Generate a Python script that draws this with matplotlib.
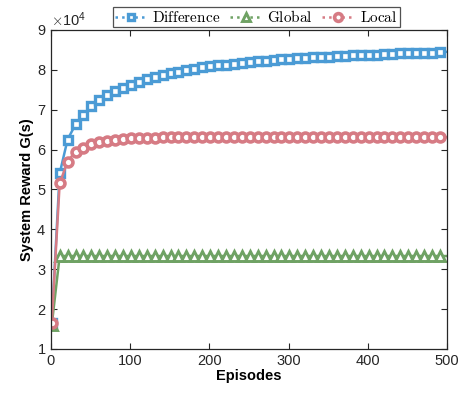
import numpy as np
import matplotlib
matplotlib.use('Agg')
import matplotlib.pyplot as plt
from matplotlib.lines import Line2D
from matplotlib.ticker import ScalarFormatter

# episodes where samples are shown (markers every 10 episodes, line ends at 500)
episodes = [1] + list(range(11, 500, 10)) + [500]

difference = [1.65, 5.40, 6.25, 6.63, 6.87, 7.08, 7.25, 7.37, 7.47, 7.55,
              7.63, 7.70, 7.76, 7.81, 7.86, 7.91, 7.95, 7.99, 8.03, 8.06,
              8.09, 8.11, 8.13, 8.15, 8.17, 8.19, 8.21, 8.23, 8.24, 8.26,
              8.28, 8.29, 8.30, 8.31, 8.32, 8.33, 8.34, 8.35, 8.36, 8.37,
              8.37, 8.38, 8.39, 8.40, 8.41, 8.41, 8.42, 8.43, 8.43, 8.44,
              8.45]
global_r = [1.60] + [3.33] * 50
local_r = [1.65, 5.15, 5.70, 5.95, 6.05, 6.13, 6.18, 6.22, 6.25, 6.27,
           6.28, 6.29, 6.30, 6.30, 6.31, 6.31, 6.31, 6.31, 6.31, 6.31,
           6.31, 6.31, 6.31, 6.31, 6.31, 6.31, 6.31, 6.31, 6.31, 6.31,
           6.31, 6.31, 6.31, 6.31, 6.31, 6.31, 6.31, 6.31, 6.31, 6.31,
           6.31, 6.31, 6.31, 6.31, 6.31, 6.31, 6.31, 6.31, 6.31, 6.31,
           6.31]

labels = ['Difference', 'Global', 'Local']
colors = ['#4b9bd5', '#6fa264', '#d67b84']
markers = ['s', '^', 'o']
msizes = [5.8, 6.6, 6.4]
mews = [2.4, 2.1, 2.6]

plt.rcParams['font.family'] = ['Liberation Sans', 'DejaVu Sans']
plt.rcParams['mathtext.fontset'] = 'cm'

fig = plt.figure(figsize=(4.59, 3.93), dpi=100)
ax = fig.add_axes([0.111, 0.112, 0.863, 0.812])

series = [difference, global_r, local_r]
x = np.array(episodes)
handles = []
for vals, lab, c, m, ms, mew in zip(series, labels, colors, markers, msizes, mews):
    y = np.array(vals) * 1e4
    ax.plot(x, y, '-', color=c, lw=1.8, marker=m, markersize=ms,
            markerfacecolor='white', markeredgecolor=c, markeredgewidth=mew,
            markevery=slice(0, len(x) - 1))
    handles.append(Line2D([], [], color=c, ls=':', lw=1.8, marker=m,
                          markersize=ms - 0.8, markerfacecolor='white',
                          markeredgecolor=c, markeredgewidth=mew))

ax.set_xlim(0, 500)
ax.set_ylim(1e4, 9e4)
ax.set_xticks([0, 100, 200, 300, 400, 500])
ax.set_yticks(np.arange(1, 10) * 1e4)
fmt = ScalarFormatter(useMathText=True)
fmt.set_powerlimits((0, 0))
ax.yaxis.set_major_formatter(fmt)
ax.yaxis.get_offset_text().set_fontsize(10.5)
ax.yaxis.get_offset_text().set_color('#262626')

ax.tick_params(direction='in', top=True, right=True, labelsize=10.5,
               colors='#262626', length=4, width=0.8)
for s in ax.spines.values():
    s.set_color('#262626')
    s.set_linewidth(0.9)

ax.set_xlabel('Episodes', fontsize=10.5, fontweight='bold', labelpad=1)
ax.set_ylabel('System Reward G(s)', fontsize=10.5, fontweight='bold', labelpad=2)

leg = fig.legend(handles, [r'$\mathrm{' + l + '}$' for l in labels],
                 loc='center', bbox_to_anchor=(0.558, 0.957), ncol=3,
                 fontsize=11, frameon=True, fancybox=False, handlelength=2.1,
                 handletextpad=0.35, columnspacing=0.6, borderpad=0.15,
                 borderaxespad=0)
leg.get_frame().set_edgecolor('#262626')
leg.get_frame().set_linewidth(0.9)

fig.savefig('out.png', dpi=100)
